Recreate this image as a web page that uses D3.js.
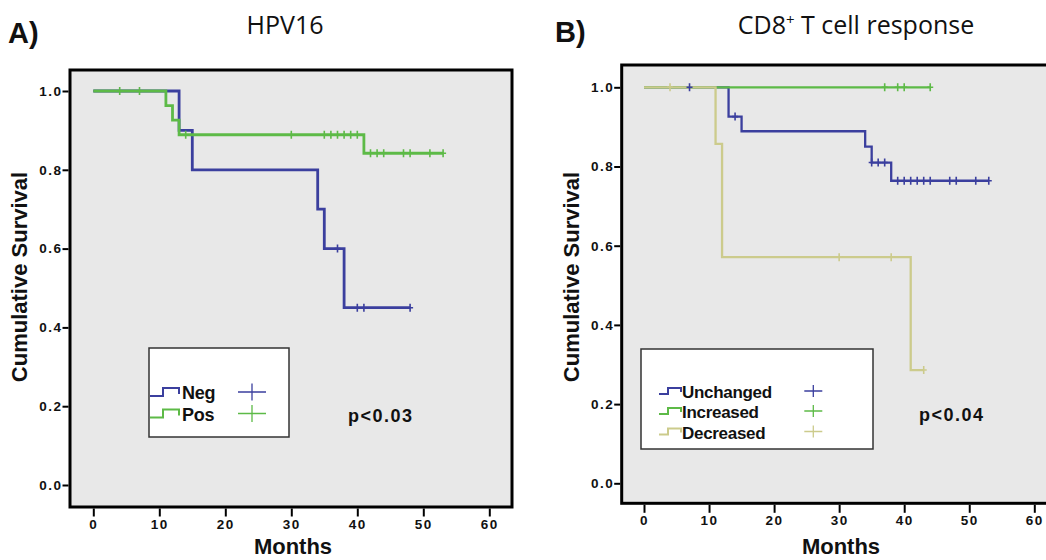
<!DOCTYPE html>
<html>
<head>
<meta charset="utf-8">
<script src="https://cdn.jsdelivr.net/npm/d3@7"></script>
<style>
  body { margin: 0; background: #fff; overflow: hidden; }
  svg { display: block; }
  .bold { font-family: "Liberation Sans", Arial, sans-serif; font-weight: bold; fill: #111; }
  .title { font-family: "Open Sans", "Noto Sans", sans-serif; font-size: 25px; fill: #111; }
  .tick line { stroke: #000; stroke-width: 2; }
</style>
</head>
<body>
<script>
const months = [0, 10, 20, 30, 40, 50, 60];
const survivalTicks = [0, 0.2, 0.4, 0.6, 0.8, 1.0];

// A) HPV16 - [month, cumulative survival] at each event
const negSteps = [[0, 1], [13, 0.9], [15, 0.8], [34, 0.7], [35, 0.6], [38, 0.45]];
const negEnd = 48;
const negCensored = [37, 40, 41, 48];
const posSteps = [[0, 1], [11, 0.963], [12, 0.926], [13, 0.889], [41, 0.842]];
const posEnd = 53;
const posCensored = [4, 7, 14, 30, 35, 36, 37, 38, 39, 40, 42, 43, 44, 47, 48, 51, 53];

// B) CD8+ T cell response
const unchangedSteps = [[0, 1], [13, 0.926], [15, 0.889], [34, 0.85], [35, 0.81], [38, 0.764]];
const unchangedEnd = 53;
const unchangedCensored = [7, 14, 35, 36, 37, 39, 40, 41, 42, 43, 44, 47, 48, 51, 53];
const increasedSteps = [[0, 1]];
const increasedEnd = 44;
const increasedCensored = [37, 39, 40, 44];
const decreasedSteps = [[0, 1], [11, 0.857], [12, 0.571], [41, 0.286]];
const decreasedEnd = 43;
const decreasedCensored = [4, 30, 38, 43];

const groupsA = ['Neg', 'Pos'];
const groupsB = ['Unchanged', 'Increased', 'Decreased'];
const pValueA = 'p<0.03';
const pValueB = 'p<0.04';

const blue = '#3b3f9e', green = '#5dba47', khaki = '#cccb8c';

const svg = d3.select('body').append('svg')
  .attr('width', 1046)
  .attr('height', 560);

function survivalAt(steps, t) {
  let s = steps[0][1];
  for (const [m, v] of steps) if (m <= t) s = v;
  return s;
}

function styleTicks(axis) {
  axis.select('.domain').remove();
  axis.selectAll('text')
    .style('font-family', '"Liberation Sans", Arial, sans-serif')
    .style('font-weight', 'bold')
    .style('font-size', '13.5px')
    .style('letter-spacing', '1.5px')
    .attr('fill', '#111');
}

function drawPanel(cfg) {
  const g = svg.append('g');
  const f = cfg.frame;
  const x = d3.scaleLinear().domain([0, 60]).range(cfg.xRange);
  const y = d3.scaleLinear().domain([0, 1]).range(cfg.yRange);

  g.append('rect')
    .attr('x', f[0]).attr('y', f[1])
    .attr('width', f[2] - f[0]).attr('height', f[3] - f[1])
    .attr('fill', '#e8e8e8')
    .attr('stroke', '#000')
    .attr('stroke-width', 3);

  const yAxis = g.append('g')
    .attr('transform', `translate(${f[0] - 1.5},0)`)
    .call(d3.axisLeft(y).tickValues(survivalTicks).tickFormat(d3.format('.1f')).tickSize(6).tickPadding(0));
  styleTicks(yAxis);

  const xAxis = g.append('g')
    .attr('transform', `translate(0,${f[3] + 1.5})`)
    .call(d3.axisBottom(x).tickValues(months).tickSize(8).tickPadding(3));
  styleTicks(xAxis);

  const line = d3.line()
    .x(d => x(d[0]))
    .y(d => y(d[1]))
    .curve(d3.curveStepAfter);

  cfg.series.forEach(s => {
    const pts = s.steps.concat([[s.end, s.steps[s.steps.length - 1][1]]]);
    g.append('path')
      .attr('d', line(pts))
      .attr('fill', 'none')
      .attr('stroke', s.color)
      .attr('stroke-width', cfg.lineWidth);
  });
  // censored marks
  cfg.series.forEach(s => {
    g.selectAll(null).data(s.censored).enter()
      .append('path')
      .attr('d', t => {
        const cx = x(t), cy = y(survivalAt(s.steps, t));
        return `M${cx},${cy - 4}V${cy + 4}M${cx - 3},${cy}H${cx + 3}`;
      })
      .attr('fill', 'none')
      .attr('stroke', s.color)
      .attr('stroke-width', 1.6);
  });

  // legend
  const L = cfg.legend;
  g.append('rect')
    .attr('x', L.box[0]).attr('y', L.box[1])
    .attr('width', L.box[2]).attr('height', L.box[3])
    .attr('fill', '#fff')
    .attr('stroke', '#333')
    .attr('stroke-width', 1.5);
  cfg.series.forEach((s, i) => {
    const ry = L.rows[i];
    const x0 = L.iconX, x1 = L.iconX + L.iconStep, x2 = L.iconX + L.iconW;
    g.append('path')
      .attr('d', `M${x0},${ry + L.iconH / 2}H${x1}V${ry - L.iconH / 2}H${x2}V${ry + L.iconH / 2 - 2}`)
      .attr('fill', 'none')
      .attr('stroke', s.color)
      .attr('stroke-width', 2);
    g.append('text')
      .attr('class', 'bold')
      .attr('x', L.textX)
      .attr('y', ry + 7)
      .style('font-size', L.fontSize + 'px')
      .style('letter-spacing', '-0.3px')
      .text(s.name);
    g.append('path')
      .attr('d', `M${L.crossX},${ry - L.crossH}V${ry + L.crossH}M${L.crossX - L.crossW},${ry}H${L.crossX + L.crossW}`)
      .attr('stroke', s.color)
      .attr('stroke-width', 1.3);
  });

  g.append('text')
    .attr('class', 'bold')
    .attr('x', cfg.pPos[0]).attr('y', cfg.pPos[1])
    .style('font-size', '18px')
    .style('letter-spacing', '1.5px')
    .text(cfg.pValue);

  g.append('text')
    .attr('class', 'bold')
    .attr('text-anchor', 'middle')
    .attr('x', cfg.monthsPos[0]).attr('y', cfg.monthsPos[1])
    .style('font-size', '22px')
    .text('Months');

  g.append('text')
    .attr('class', 'bold')
    .attr('text-anchor', 'middle')
    .attr('transform', `translate(${cfg.yLabelPos[0]},${cfg.yLabelPos[1]}) rotate(-90)`)
    .style('font-size', '22px')
    .text('Cumulative Survival');

  g.append('text')
    .attr('class', 'bold')
    .attr('x', cfg.letterPos[0]).attr('y', cfg.letterPos[1])
    .style('font-size', '29px')
    .text(cfg.letter);

  const title = g.append('text')
    .attr('class', 'title')
    .attr('text-anchor', 'middle')
    .attr('x', cfg.titlePos[0]).attr('y', cfg.titlePos[1]);
  cfg.title.forEach(part => {
    const ts = title.append('tspan').text(part.text);
    if (part.sup) ts.attr('dy', -9).style('font-size', '15px');
    else if (part.after) ts.attr('dy', 9);
  });
}

drawPanel({
  frame: [70, 70, 512, 507],
  xRange: [93.3, 489.3],
  yRange: [485, 91],
  lineWidth: 2.8,
  series: [
    {name: groupsA[0], steps: negSteps, end: negEnd, censored: negCensored, color: blue},
    {name: groupsA[1], steps: posSteps, end: posEnd, censored: posCensored, color: green}
  ],
  legend: {box: [149, 348, 140, 89], rows: [392, 413.5], iconX: 150, iconStep: 13, iconW: 29, iconH: 8,
    textX: 182, fontSize: 18, crossX: 252, crossW: 14, crossH: 8.5},
  pValue: pValueA, pPos: [348, 421.7],
  monthsPos: [293, 554],
  yLabelPos: [27, 277],
  letter: 'A)', letterPos: [8, 43],
  title: [{text: 'HPV16'}], titlePos: [285, 34]
});

drawPanel({
  frame: [621.7, 65, 1057, 503.3],
  xRange: [644, 1034.3],
  yRange: [483.3, 87.3],
  lineWidth: 2.3,
  series: [
    {name: groupsB[0], steps: unchangedSteps, end: unchangedEnd, censored: unchangedCensored, color: blue},
    {name: groupsB[1], steps: increasedSteps, end: increasedEnd, censored: increasedCensored, color: green},
    {name: groupsB[2], steps: decreasedSteps, end: decreasedEnd, censored: decreasedCensored, color: khaki}
  ],
  legend: {box: [641, 349, 232, 100], rows: [391, 411, 431.5], iconX: 659, iconStep: 9, iconW: 22, iconH: 6,
    textX: 682, fontSize: 17, crossX: 813.3, crossW: 9, crossH: 6},
  pValue: pValueB, pPos: [919, 420.7],
  monthsPos: [841, 554],
  yLabelPos: [579, 277],
  letter: 'B)', letterPos: [555, 42],
  title: [{text: 'CD8'}, {text: '+', sup: true}, {text: ' T cell response', after: true}], titlePos: [856, 34]
});
</script>
</body>
</html>
